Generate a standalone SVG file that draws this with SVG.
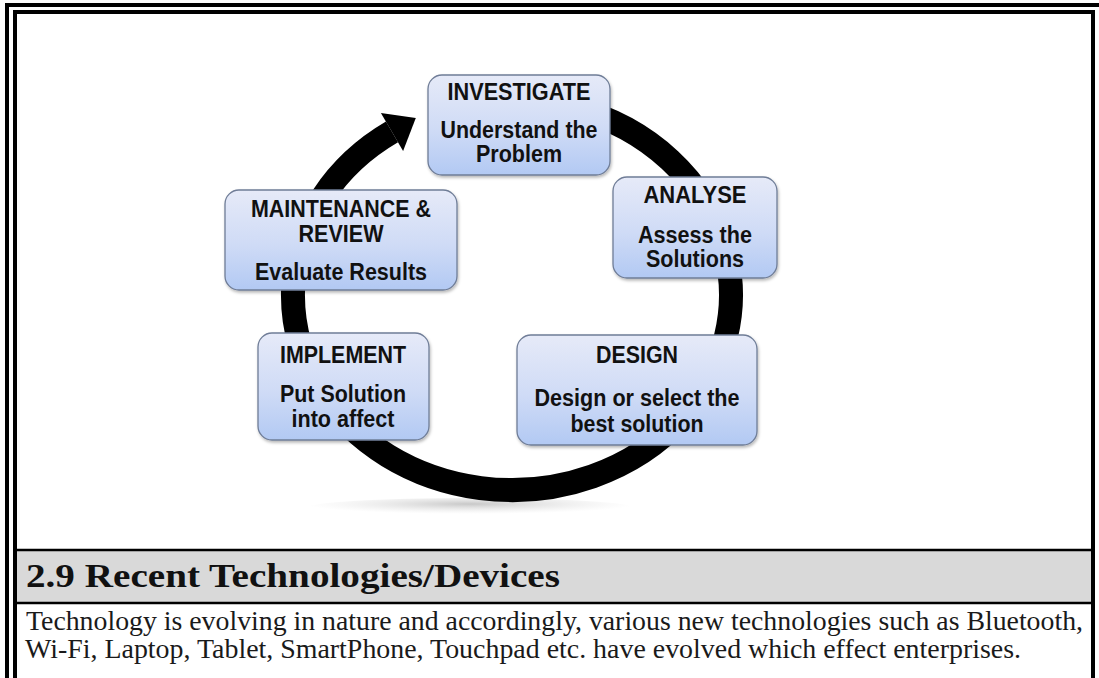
<svg xmlns="http://www.w3.org/2000/svg" width="1099" height="678" viewBox="0 0 1099 678">
  <style>
    .frame { fill: none; stroke: #000; stroke-width: 4; }
    .box { fill: url(#boxGrad); stroke: #6f7d97; stroke-width: 1.3; filter: url(#shadow); }
    .lbl { font-family: "Liberation Sans", Arial, sans-serif; font-weight: bold; font-size: 23px; fill: #111; text-anchor: middle; }
    .head { font-family: "Liberation Serif", "Times New Roman", serif; font-weight: bold; font-size: 34px; fill: #111; }
    .body { font-family: "Liberation Serif", "Times New Roman", serif; font-size: 27.5px; fill: #1a1a1a; }
  </style>
  <defs>
    <linearGradient id="boxGrad" x1="0" y1="0" x2="0" y2="1">
      <stop offset="0" stop-color="#e6eaf8"/>
      <stop offset="0.55" stop-color="#cfdbf6"/>
      <stop offset="1" stop-color="#b2c9f3"/>
    </linearGradient>
    <radialGradient id="reflGrad" cx="0.5" cy="0.3" r="0.5">
      <stop offset="0" stop-color="#9a9a9a" stop-opacity="0.55"/>
      <stop offset="1" stop-color="#cfcfcf" stop-opacity="0"/>
    </radialGradient>
    <filter id="shadow" x="-10%" y="-10%" width="125%" height="130%">
      <feDropShadow dx="1" dy="2" stdDeviation="1.5" flood-color="#000" flood-opacity="0.28"/>
    </filter>
  </defs>

  <rect x="0" y="0" width="1099" height="678" fill="#fff"/>

  <!-- page frame -->
  <rect class="frame" x="7" y="5" width="1100" height="690"/>
  <rect class="frame" x="15" y="12" width="1078" height="690"/>

  <!-- connectors: circular arrow -->
  <g id="connectors">
    <ellipse cx="470" cy="508" rx="165" ry="10" fill="url(#reflGrad)"/>
    <path d="M 474 103 A 219 195 0 1 1 392 131.9" fill="none" stroke="#000" stroke-width="24"/>
    <polygon points="380.9,112.9 415.8,118.0 403.1,150.9" fill="#000"/>
  </g>

  <g id="node-investigate">
    <rect class="box" x="428" y="75" width="182" height="100" rx="14"/>
    <text class="lbl" x="519" y="100" textLength="143" lengthAdjust="spacingAndGlyphs">INVESTIGATE</text>
    <text class="lbl" x="519" y="138" textLength="157" lengthAdjust="spacingAndGlyphs">Understand the</text>
    <text class="lbl" x="519" y="162" textLength="86" lengthAdjust="spacingAndGlyphs">Problem</text>
  </g>

  <g id="node-analyse">
    <rect class="box" x="613" y="177" width="164" height="101" rx="14"/>
    <text class="lbl" x="695" y="203" textLength="103" lengthAdjust="spacingAndGlyphs">ANALYSE</text>
    <text class="lbl" x="695" y="243" textLength="114" lengthAdjust="spacingAndGlyphs">Assess the</text>
    <text class="lbl" x="695" y="267" textLength="98" lengthAdjust="spacingAndGlyphs">Solutions</text>
  </g>

  <g id="node-design">
    <rect class="box" x="517" y="335" width="240" height="110" rx="14"/>
    <text class="lbl" x="637" y="363" textLength="82" lengthAdjust="spacingAndGlyphs">DESIGN</text>
    <text class="lbl" x="637" y="406" textLength="205" lengthAdjust="spacingAndGlyphs">Design or select the</text>
    <text class="lbl" x="637" y="432" textLength="133" lengthAdjust="spacingAndGlyphs">best solution</text>
  </g>

  <g id="node-implement">
    <rect class="box" x="258" y="333" width="171" height="107" rx="14"/>
    <text class="lbl" x="343" y="363" textLength="126" lengthAdjust="spacingAndGlyphs">IMPLEMENT</text>
    <text class="lbl" x="343" y="402" textLength="126" lengthAdjust="spacingAndGlyphs">Put Solution</text>
    <text class="lbl" x="343" y="427" textLength="103" lengthAdjust="spacingAndGlyphs">into affect</text>
  </g>

  <g id="node-maintenance">
    <rect class="box" x="225" y="190" width="232" height="100" rx="14"/>
    <text class="lbl" x="341" y="217" textLength="180" lengthAdjust="spacingAndGlyphs">MAINTENANCE &amp;</text>
    <text class="lbl" x="341" y="242" textLength="85" lengthAdjust="spacingAndGlyphs">REVIEW</text>
    <text class="lbl" x="341" y="280" textLength="172" lengthAdjust="spacingAndGlyphs">Evaluate Results</text>
  </g>

  <!-- heading bar -->
  <g id="heading">
    <rect x="17" y="550" width="1074" height="53" fill="#d9d9d9"/>
    <line x1="17" y1="550" x2="1091" y2="550" stroke="#000" stroke-width="2.5"/>
    <line x1="17" y1="603" x2="1091" y2="603" stroke="#000" stroke-width="2.5"/>
    <text class="head" x="26" y="587" textLength="534" lengthAdjust="spacingAndGlyphs">2.9 Recent Technologies/Devices</text>
  </g>

  <g id="body-text">
    <text class="body" x="26" y="630" textLength="1057" lengthAdjust="spacingAndGlyphs">Technology is evolving in nature and accordingly, various new technologies such as Bluetooth,</text>
    <text class="body" x="25" y="658" textLength="996" lengthAdjust="spacingAndGlyphs">Wi-Fi, Laptop, Tablet, SmartPhone, Touchpad etc. have evolved which effect enterprises.</text>
  </g>
</svg>
